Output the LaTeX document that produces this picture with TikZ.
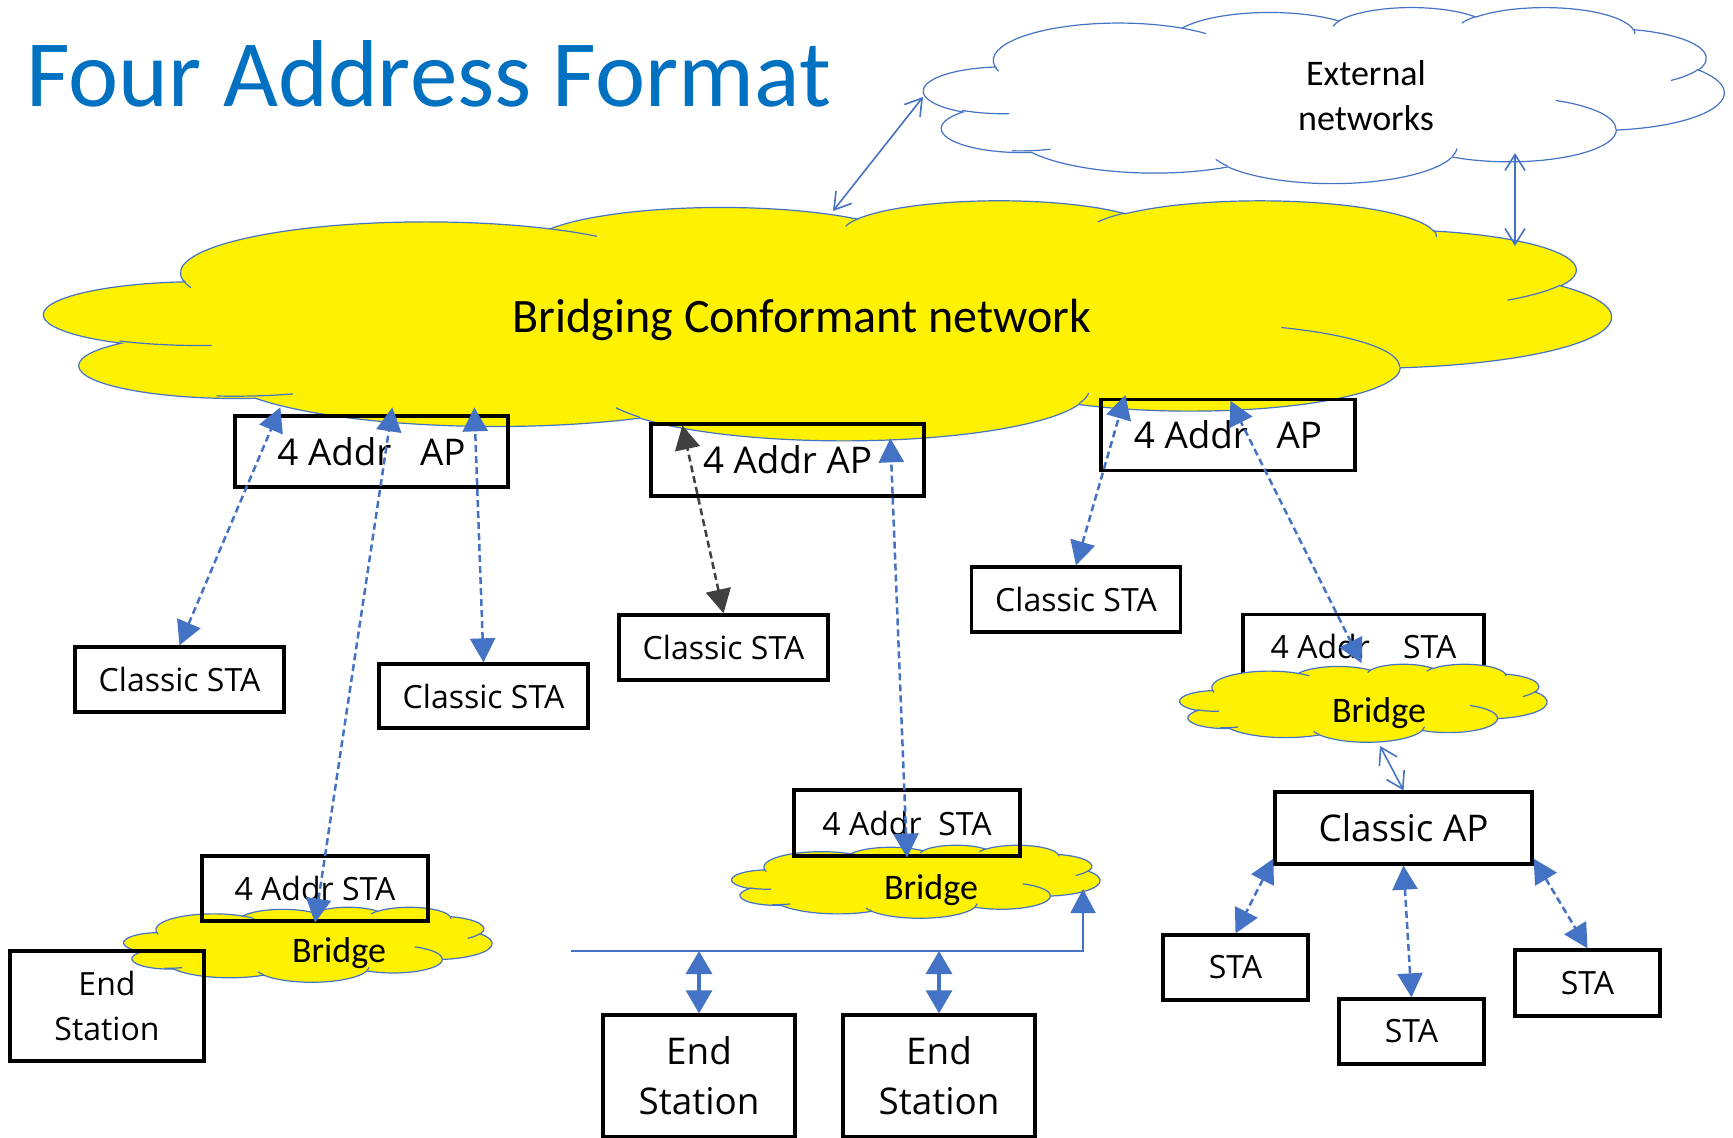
\documentclass[tikz,border=0pt]{standalone}
\usepackage{fontspec}
\setmainfont{Open Sans}
\newfontfamily\cali{Carlito}
\usetikzlibrary{shapes,arrows.meta,positioning,calc}
\definecolor{lineblue}{RGB}{68,114,196}
\definecolor{titleblue}{RGB}{0,112,192}
\definecolor{darkgrey}{RGB}{64,64,64}
\tikzstyle{box} = [rectangle, draw=black, line width=1.65pt, inner sep=0pt, text centered, font=\fontsize{16}{22.5}\selectfont]
\tikzstyle{bigbox} = [box, font=\fontsize{18.4}{25}\selectfont]
\tikzstyle{cloudtext} = [inner sep=0pt, align=center, font=\cali\fontsize{18}{22.5}\selectfont]
\tikzstyle{dasharrow} = [lineblue, line width=1.25pt, dash pattern=on 3.5pt off 2pt, {Triangle[length=12pt,width=12.5pt]}-{Triangle[length=12pt,width=12.5pt]}]
\tikzstyle{openarrow} = [lineblue, line width=0.8pt, {Straight Barb[length=8pt,width=10pt]}-{Straight Barb[length=8pt,width=10pt]}]
\tikzstyle{busline} = [lineblue, line width=1pt, -{Triangle[length=12pt,width=12.5pt]}]
\tikzstyle{tap} = [lineblue, line width=1.6pt, {Triangle[length=11.5pt,width=13pt]}-{Triangle[length=11.5pt,width=13pt]}]

% elliptic arc, angles measured as seen (PowerPoint arcTo)
\newcommand{\cparc}[4]{arc[x radius=#1, y radius=#2,
  start angle={#3+Mod(atan2(#1*sin(#3),#2*cos(#3))-(#3)+180,360)-180},
  end angle={#3+#4+Mod(atan2(#1*sin(#3+#4),#2*cos(#3+#4))-(#3+#4)+180,360)-180}]}

\tikzset{
  pics/pcloud/.style={code={
    \path[pic actions] (39.00,143.70)
      \cparc{67.53}{91.90}{-190.4875}{123.7805}
      \cparc{53.33}{72.67}{-144.1024}{89.9452}
      \cparc{43.65}{59.45}{-145.8079}{99.7230}
      \cparc{48.57}{65.95}{-130.9861}{117.2417}
      \cparc{53.33}{72.73}{-78.7089}{109.0269}
      \cparc{67.75}{92.20}{-46.2673}{130.2690}
      \cparc{57.85}{78.67}{0.6250}{114.0333}
      \cparc{67.52}{92.15}{22.4516}{115.1726}
      \cparc{77.20}{105.43}{66.2426}{74.1047}
      \cparc{43.60}{59.18}{-274.9421}{146.7356}
      \cparc{43.45}{59.45}{-246.8285}{152.5189} -- cycle;
    \path[pic actions, fill=none]
      (46.93,261.77) \cparc{43.45}{59.45}{86.7420}{26.4295}
      (69.28,348.99) \cparc{43.60}{59.18}{73.6105}{21.0363}
      (164.78,390.90) \cparc{67.52}{92.15}{137.6242}{13.7530}
      (288.27,347.51) \cparc{67.52}{92.15}{6.4533}{15.9984}
      (341.29,229.54) \cparc{57.85}{78.67}{-70.2924}{70.9174}
      (417.98,153.54) \cparc{53.33}{72.73}{30.3180}{27.7515}
      (383.24,54.26) \cparc{48.57}{65.95}{-13.7443}{14.8589}
      (290.78,39.52) \cparc{48.57}{65.95}{-149.1815}{18.1954}
      (221.41,47.20) \cparc{43.65}{59.45}{-163.4943}{17.5548}
      (140.00,51.92) \cparc{67.53}{91.90}{-66.7070}{12.3194}
      (41.27,157.89) \cparc{67.53}{91.90}{157.6544}{11.8582};
  }}
}

\begin{document}
\begin{tikzpicture}[x=0.5pt, y=-0.5pt]
	\useasboundingbox (0,0) rectangle (1733,1138);
	\fill[white] (0,0) rectangle (1733,1138);
	% clouds
	\pic[draw=lineblue, fill=white, line width=0.6pt, xscale=802/432, yscale=176/432] at (922,7) {pcloud};
	\pic[draw=lineblue, fill=yellow, line width=0.6pt, xscale=1570/432, yscale=240/432] at (41,200) {pcloud};
	\node (ext) at (1366,96) [cloudtext] {External\\networks};
	\node (bcn) at (802,320) [cloudtext, font=\cali\fontsize{24}{28}\selectfont] {Bridging Conformant network};
	\node (title) at (26,107) [anchor=base west, inner sep=0pt, text=titleblue, font=\cali\fontsize{47.5}{56}\selectfont] {Four Address Format};
	\coordinate (bcn-n) at (833,211);
	\coordinate (ext-w) at (923,97);
	\coordinate (ext-s) at (1515,153);
	\coordinate (bcn-e) at (1515,246);
	\draw [openarrow] (bcn-n) -- (ext-w);
	\draw [openarrow] (ext-s) -- (bcn-e);

	% bridges
	\pic[draw=lineblue, fill=yellow, line width=0.6pt, xscale=369/432, yscale=75/432] at (123,907) {pcloud};
	\pic[draw=lineblue, fill=yellow, line width=0.6pt, xscale=369/432, yscale=73/432] at (731,845) {pcloud};
	\node (sta3box) at (1363.5,646.5) [box, fill=white, minimum width=120.5pt, minimum height=32pt] {4 Addr~~~~STA};
	\pic[draw=lineblue, fill=yellow, line width=0.6pt, xscale=368/432, yscale=78/432] at (1179,664) {pcloud};
	\node (br1) at (339,953) [cloudtext] {Bridge};
	\node (br2) at (931,890) [cloudtext] {Bridge};
	\node (br3) at (1379,713) [cloudtext] {Bridge};

	% boxes
	\node (ap1) at (371.5,451.5) [bigbox, minimum width=136.5pt, minimum height=35.5pt] {4 Addr~~~AP};
	\node (ap2) at (787.5,460) [bigbox, minimum width=136.5pt, minimum height=36pt] {4 Addr AP};
	\node (ap3) at (1228,435) [bigbox, minimum width=127pt, minimum height=35.5pt] {4 Addr~~~AP};
	\node (csta1) at (179.5,679.5) [box, minimum width=104.5pt, minimum height=32.5pt] {Classic STA};
	\node (csta2) at (483.5,696) [box, minimum width=104.5pt, minimum height=32pt] {Classic STA};
	\node (csta3) at (723.5,647.5) [box, minimum width=104.5pt, minimum height=32.5pt] {Classic STA};
	\node (csta4) at (1076,599.5) [box, minimum width=104.5pt, minimum height=32.5pt] {Classic STA};
	\node (sta1box) at (315,888.5) [box, minimum width=113pt, minimum height=32.5pt] {4 Addr STA};
	\node (sta2box) at (907,823) [box, minimum width=113pt, minimum height=33pt] {4 Addr~~STA};
	\node (es1) at (107,1006) [box, align=center, minimum width=97pt, minimum height=55pt] {End\\Station};
	\node (es2) at (699,1076) [bigbox, align=center, minimum width=96pt, minimum height=61pt] {End\\Station};
	\node (es3) at (939,1076) [bigbox, align=center, minimum width=96pt, minimum height=61pt] {End\\Station};
	\node (cap) at (1403.5,828) [bigbox, minimum width=128.5pt, minimum height=36pt] {Classic AP};
	\node (staa) at (1235.5,967.5) [box, minimum width=72.5pt, minimum height=32.5pt] {STA};
	\node (stab) at (1411.5,1031.5) [box, minimum width=72.5pt, minimum height=32.5pt] {STA};
	\node (stac) at (1587.5,983) [box, minimum width=72.5pt, minimum height=33pt] {STA};

	% links
	\draw [dasharrow] (csta1.north) -- ($(ap1.north west)+(47,-7)$);
	\draw [dasharrow] (sta1box.south) -- ($(ap1.north west)+(159,-7)$);
	\draw [dasharrow] (csta2.north) -- ($(ap1.north west)+(241,-7)$);
	\draw [dasharrow, darkgrey] (csta3.north) -- ($(ap2.north west)+(33,3)$);
	\draw [dasharrow] (sta2box.south) -- ($(ap2.north west)+(241,16)$);
	\draw [dasharrow] (csta4.north) -- ($(ap3.north west)+(26,-3)$);
	\draw [dasharrow] ($(sta3box.south)+(-2,-17)$) -- ($(ap3.north west)+(131,3)$);
	\coordinate (br3-s) at (1380,746);
	\draw [openarrow] (br3-s) -- (cap.north);
	\draw [dasharrow] ($(cap.south west)+(0,-7)$) -- (staa.north);
	\draw [dasharrow] (cap.south) -- (stab.north);
	\draw [dasharrow] ($(cap.south east)+(0,-7)$) -- (stac.north);
	\coordinate (bus-w) at (571,951);
	\coordinate (br2-se) at (1083,889);
	\draw [busline] (bus-w) -| (br2-se);
	\draw [tap] (es2.north |- bus-w) -- (es2.north);
	\draw [tap] (es3.north |- bus-w) -- (es3.north);
\end{tikzpicture}
\end{document}
